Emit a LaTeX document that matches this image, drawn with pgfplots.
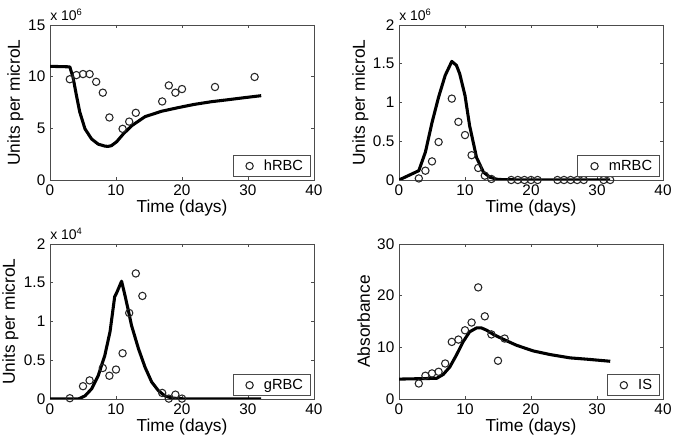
\documentclass[border=0pt]{standalone}
\usepackage{fontspec}
\setmainfont{Liberation Sans}
\usepackage{pgfplots}
\pgfplotsset{compat=1.18}
\pgfplotsset{
 mystyle/.style={
  width=198pt, height=116.25pt, scale only axis,
  xmin=0, xmax=40, xtick={0,10,20,30,40},
  axis line style={black!70, line width=0.5pt},
  tick style={black!70, line width=0.5pt},
  major tick length=2.5pt,
  tick align=inside,
  ticklabel style={font=\fontsize{11.5}{13}\selectfont},
  /pgf/number format/assume math mode=true,
  label style={font=\fontsize{13}{15}\selectfont},
  xlabel={Time (days)},
  xlabel style={at={(axis description cs:0.5,-0.21)}, anchor=base},
  legend style={at={(rel axis cs:0.989,0.019)}, anchor=south east, draw=black!70, line width=0.5pt,
    font=\fontsize{11}{13}\selectfont, inner xsep=3.75pt, inner ysep=1.3pt, nodes={inner sep=2pt}},
  every y tick scale label/.style={at={(rel axis cs:0,1)}, anchor=base west, inner sep=0pt, yshift=3pt,
    font=\fontsize{10.5}{12}\selectfont},
  ytick scale label code/.code={x 10\raisebox{0.8ex}{\fontsize{7}{8}\selectfont ##1}},
 },
 dots/.style={only marks, mark=o, black!85, mark size=2.75pt, mark options={line width=0.8pt},
   legend image code/.code={\path (0cm,0cm) (0.6cm,0cm); \draw[##1] plot coordinates {(0.3cm,0cm)};}},
 fit/.style={black, line width=2.3pt, line join=round, no marks},
}
\begin{document}
\begin{tikzpicture}
\useasboundingbox (0,0) rectangle (506.25pt,330.75pt);
% top left: hRBC
\begin{axis}[mystyle, at={(37.5pt,195.75pt)}, anchor=south west,
  ymin=0, ymax=15e6, ytick={0,5e6,10e6,15e6}, scaled y ticks=base 10:-6,
  ylabel={Units per microL}, ylabel style={at={(axis description cs:-0.131,0.5)}, anchor=center}]
\addplot[dots] coordinates {(3,9.75e6) (4,10.15e6) (5,10.25e6) (6,10.25e6) (7,9.5e6) (8,8.45e6) (9,6.05e6)
 (11,4.95e6) (12,5.65e6) (13,6.5e6) (17,7.6e6) (18,9.15e6) (19,8.45e6) (20,8.8e6) (25,9.0e6) (31,9.97e6)};
\addlegendentry{hRBC}
\addplot[fit, forget plot] coordinates {(0,11.0e6) (3,10.95e6) (3.5,9.9e6) (4,8.2e6) (4.5,6.6e6) (5.3,4.95e6)
 (6.3,3.97e6) (7.3,3.47e6) (8.3,3.28e6) (8.8,3.25e6) (9.3,3.32e6) (10.1,3.7e6) (11.1,4.45e6) (12.4,5.26e6)
 (14.4,6.13e6) (16.9,6.65e6) (19.4,7.0e6) (21.9,7.32e6) (24.5,7.58e6) (27,7.77e6) (29.5,7.97e6) (32,8.16e6)};
\end{axis}
% top right: mRBC
\begin{axis}[mystyle, at={(299.25pt,195.75pt)}, anchor=south west,
  ymin=0, ymax=2e6, ytick={0,0.5e6,1e6,1.5e6,2e6}, scaled y ticks=base 10:-6,
  ylabel={Units per microL}, ylabel style={at={(axis description cs:-0.146,0.5)}, anchor=center}]
\addplot[dots] coordinates {(3,0.02e6) (4,0.12e6) (5,0.24e6) (6,0.49e6) (8,1.05e6) (9,0.75e6) (10,0.58e6)
 (11,0.32e6) (12,0.155e6) (13,0.056e6) (14,0.013e6) (17,0) (18,0) (19,0) (20,0) (21,0) (24,0) (25,0) (26,0)
 (27,0) (28,0) (31,0) (32,0)};
\addlegendentry{mRBC}
\addplot[fit, forget plot] coordinates {(0,0) (3,0.12e6) (4,0.36e6) (5,0.74e6) (6,1.07e6) (7,1.35e6) (8,1.53e6)
 (8.7,1.48e6) (9.2,1.37e6) (10,1.09e6) (10.7,0.70e6) (11.75,0.29e6) (12.8,0.10e6) (13.8,0.035e6)
 (14.8,0.01e6) (16,0.003e6) (32,0)};
\end{axis}
% bottom left: gRBC
\begin{axis}[mystyle, at={(37.5pt,31.5pt)}, anchor=south west,
  ymin=0, ymax=2e4, ytick={0,5000,10000,15000,20000}, scaled y ticks=base 10:-4,
  ylabel={Units per microL}, ylabel style={at={(axis description cs:-0.15,0.5)}, anchor=center}]
\addplot[dots] coordinates {(3,100) (5,1650) (6,2400) (8,4000) (9,3000) (10,3800) (11,5900) (12,11100)
 (13,16200) (14,13300) (17,780) (18,50) (19,560) (20,50)};
\addlegendentry{gRBC}
\addplot[fit, forget plot] coordinates {(0,0) (4.3,0) (5.3,400) (6.3,1300) (7.3,3000) (8.3,5600) (9.1,8700)
 (9.8,13200) (10.1,13700) (10.85,15200) (11.35,13400) (11.85,11500) (12.35,9500) (13.4,6500) (14.4,4100)
 (15.4,2200) (16.4,1100) (17.4,400) (18.4,130) (20.4,0) (32,0)};
\end{axis}
% bottom right: IS
\begin{axis}[mystyle, at={(299.25pt,31.5pt)}, anchor=south west,
  ymin=0, ymax=30, ytick={0,10,20,30},
  ylabel={Absorbance}, ylabel style={at={(axis description cs:-0.134,0.5)}, anchor=center}]
\addplot[dots] coordinates {(3,3.0) (4,4.5) (5,4.95) (6,5.27) (7,6.87) (8,11.05) (9,11.5) (10,13.3) (11,14.8)
 (12,21.6) (13,16.0) (14,12.5) (15,7.4) (16,11.7)};
\addlegendentry{IS}
\addplot[fit, forget plot] coordinates {(0,3.85) (5.7,4.0) (6.7,4.75) (7.7,6.2) (8.7,8.5) (9.7,11.05)
 (10.7,13.0) (11.75,13.75) (12.5,13.75) (13.3,13.3) (14.3,12.5) (15.8,11.56) (17.8,10.4) (20.35,9.3)
 (22.9,8.6) (25.9,7.96) (28.5,7.7) (32,7.3)};
\end{axis}
\end{tikzpicture}
\end{document}
